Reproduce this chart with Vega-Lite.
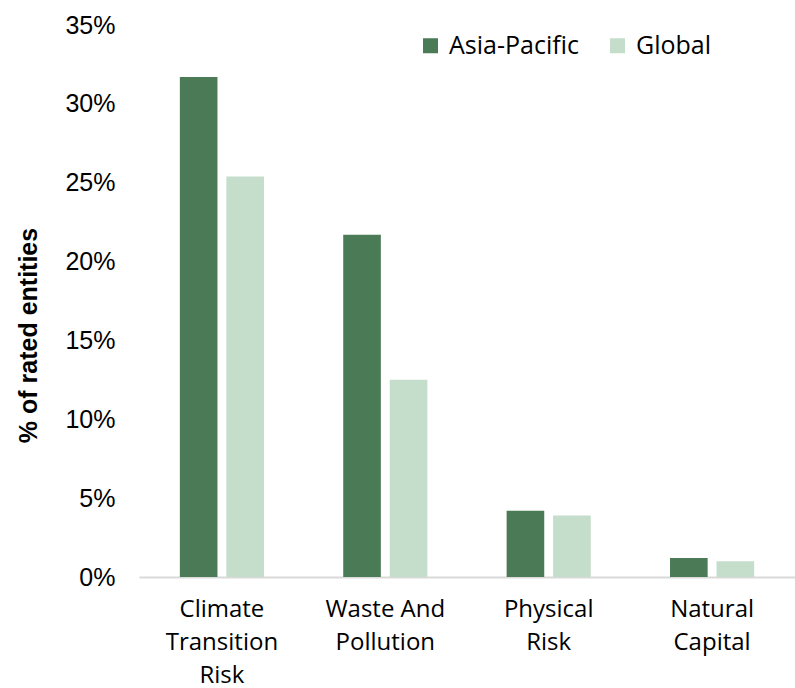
{
  "$schema": "https://vega.github.io/schema/vega-lite/v6.json",
  "width": 656,
  "height": 552,
  "autosize": "none",
  "padding": {"left": 139, "top": 25, "right": 0, "bottom": 111},
  "background": "white",
  "data": {
    "values": [
      {"category": "Climate Transition Risk", "region": "Asia-Pacific", "share": 0.317},
      {"category": "Climate Transition Risk", "region": "Global", "share": 0.254},
      {"category": "Waste And Pollution", "region": "Asia-Pacific", "share": 0.217},
      {"category": "Waste And Pollution", "region": "Global", "share": 0.125},
      {"category": "Physical Risk", "region": "Asia-Pacific", "share": 0.042},
      {"category": "Physical Risk", "region": "Global", "share": 0.039},
      {"category": "Natural Capital", "region": "Asia-Pacific", "share": 0.012},
      {"category": "Natural Capital", "region": "Global", "share": 0.010}
    ]
  },
  "config": {
    "view": {"stroke": null},
    "font": "Liberation Sans"
  },
  "mark": {"type": "bar"},
  "encoding": {
    "x": {
      "field": "category",
      "type": "nominal",
      "sort": null,
      "scale": {"paddingInner": 0.485, "paddingOuter": 0.25},
      "axis": {
        "title": null,
        "labelAngle": 0,
        "ticks": false,
        "domainColor": "#d9d9d9",
        "domainWidth": 2,
        "labelFont": "Open Sans",
        "labelFontSize": 24,
        "labelColor": "#000000",
        "labelLineHeight": 33,
        "labelPadding": 20,
        "labelBaseline": "top",
        "labelExpr": "datum.value == 'Waste And Pollution' ? ['Waste And', 'Pollution'] : datum.value == 'Physical Risk' ? ['Physical', 'Risk'] : datum.value == 'Natural Capital' ? ['Natural', 'Capital'] : ['Climate', 'Transition', 'Risk']"
      }
    },
    "xOffset": {
      "field": "region",
      "type": "nominal",
      "scale": {"paddingInner": 0.1915, "paddingOuter": 0}
    },
    "y": {
      "field": "share",
      "type": "quantitative",
      "scale": {"domain": [0, 0.35]},
      "axis": {
        "title": "% of rated entities",
        "titleFont": "Liberation Sans",
        "titleFontSize": 25,
        "titleFontWeight": "bold",
        "titleColor": "#000000",
        "titleX": -111,
        "titleY": 310,
        "titleAngle": -90,
        "titleAlign": "center",
        "titleBaseline": "middle",
        "format": ".0%",
        "values": [0, 0.05, 0.1, 0.15, 0.2, 0.25, 0.3, 0.35],
        "labelOverlap": false,
        "grid": false,
        "domain": false,
        "ticks": false,
        "labelFontSize": 25,
        "labelColor": "#000000",
        "labelPadding": 24
      }
    },
    "color": {
      "field": "region",
      "type": "nominal",
      "scale": {"domain": ["Asia-Pacific", "Global"], "range": ["#4b7a56", "#c5ddcb"]},
      "legend": {
        "title": null,
        "orient": "none",
        "direction": "horizontal",
        "legendX": 279,
        "legendY": 8,
        "symbolType": "square",
        "symbolSize": 225,
        "symbolStrokeWidth": 0,
        "labelFont": "Open Sans",
        "labelFontSize": 25,
        "labelColor": "#000000",
        "labelOffset": 6,
        "columnPadding": 26
      }
    }
  }
}
